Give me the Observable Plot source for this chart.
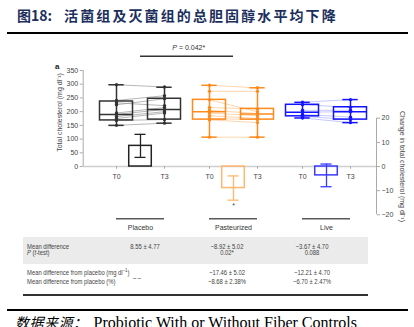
<!DOCTYPE html>
<html><head><meta charset="utf-8">
<script src="https://cdn.jsdelivr.net/npm/d3@7"></script>
<script src="https://cdn.jsdelivr.net/npm/@observablehq/plot@0.6"></script>
<style>
html,body{margin:0;padding:0;background:#fff;}
#wrap{position:relative;width:414px;height:327px;overflow:hidden;font-family:"Liberation Sans Narrow","Liberation Sans",Arial,sans-serif;}
#title{position:absolute;left:17px;top:8px;font-weight:bold;font-size:14px;font-family:"Noto Sans CJK SC",sans-serif;color:#1c2f5c;white-space:nowrap;line-height:1;}
#title .zh{letter-spacing:2.1px;margin-left:12px;}
.hr{position:absolute;background:#000;}
#chart{position:absolute;left:0;top:35px;}
.band{position:absolute;left:23px;top:237px;width:345px;height:27px;background:#ebebeb;}
.t{position:absolute;font-size:7px;color:#444;white-space:nowrap;line-height:1;}
.c{transform:translate(-50%,-50%) scaleX(0.84);}
.l{transform:translate(0,-50%) scaleX(0.84);transform-origin:0 50%;}
#foot{position:absolute;left:15px;top:314.5px;line-height:1;white-space:nowrap;color:#000;}
#foot .zh{font-family:"Noto Sans CJK SC",sans-serif;font-style:italic;font-size:14px;letter-spacing:0.5px;}
#foot .en{font-family:"Liberation Serif",serif;font-size:16px;margin-left:6px;}
</style></head><body>
<div id="wrap">
  <div id="title">图18:<span class="zh">活菌组及灭菌组的总胆固醇水平均下降</span></div>
  <div class="hr" style="left:7px;top:32px;width:401px;height:2px;"></div>
  <div id="chart"></div>
  <div class="band"></div>
  <div id="table"></div>
  <div class="hr" style="left:23px;top:294px;width:345px;height:1.5px;background:#333;"></div>
  <div class="hr" style="left:7px;top:309px;width:401px;height:2px;"></div>
  <div id="foot"><span class="zh">数据来源：</span><span class="en">Probiotic With or Without Fiber Controls</span></div>
</div>
<script>
// ---------- data ----------
const groups = ["Placebo", "Pasteurized", "Live"];
const times = ["T0", "T3"];
// box statistics (total cholesterol, mg/dl) per group
const minT0 = [150, 107, 177];
const q1T0  = [168, 171, 183];
const medT0 = [190, 200, 198];
const q3T0  = [237, 243, 225];
const maxT0 = [298, 296, 234];
const minT3 = [158, 107, 160];
const q1T3  = [171, 171, 171];
const medT3 = [208, 191, 200];
const q3T3  = [247, 210, 216];
const maxT3 = [289, 287, 244];
// individual subjects (paired T0 -> T3)
const placeboT0     = [298, 241, 232, 225, 195, 190, 182, 175, 168, 150];
const placeboT3     = [290, 258, 222, 247, 215, 208, 200, 195, 171, 158];
const pasteurizedT0 = [296, 274, 243, 215, 205, 195, 185, 175, 170, 107];
const pasteurizedT3 = [287, 274, 200, 210, 193, 185, 175, 171, 160, 107];
const liveT0        = [234, 225, 205, 198, 190, 183, 177];
const liveT3        = [244, 216, 205, 200, 180, 171, 160];
// change in total cholesterol (mean ± s.e.)
const meanDiff = [8.55, -8.92, -3.67];
const seDiff   = [4.77, 5.02, 4.70];
// axis ticks
const leftTicks  = [0, 50, 100, 150, 200, 250, 300, 350];
const rightTicks = [-20, -10, 0, 10, 20];
// table
const rowLabels = ["Mean difference", "<i>P</i> (<i>t</i>-test)", "Mean difference from placebo (mg dl<sup style='font-size:5px'>−1</sup>)", "Mean difference from placebo (%)"];
const meanDiffText = ["8.55 ± 4.77", "−8.92 ± 5.02", "−3.67 ± 4.70"];
const pText = ["", "0.02*", "0.088"];
const diffMgText = ["– –", "−17.46 ± 5.02", "−12.21 ± 4.70"];
const diffPctText = ["", "−8.68 ± 2.38%", "−6.70 ± 2.47%"];

// ---------- layout / style ----------
const K = 8.8;             // change units -> cholesterol units
const G = 93 / 48;         // group spacing
const xpos = (g, t) => g * G + t;
const strokeC = ["#333333", "#ff8a1c", "#1414ff"];
const lineC   = ["#9a9a9a", "#ffc58e", "#aeb2ff"];
const barC    = ["#222222", "#ffb76e", "#3a3aff"];
const BW = 0.6875, CW = 0.32, BARW = 0.47, ECW = 0.23;
const FONT = '"Liberation Sans Narrow","Liberation Sans",Arial,sans-serif';

const boxes = [];
groups.forEach((g, i) => {
  boxes.push({g: i, x: xpos(i, 0), min: minT0[i], q1: q1T0[i], med: medT0[i], q3: q3T0[i], max: maxT0[i]});
  boxes.push({g: i, x: xpos(i, 1), min: minT3[i], q1: q1T3[i], med: medT3[i], q3: q3T3[i], max: maxT3[i]});
});
const subj = [[placeboT0, placeboT3], [pasteurizedT0, pasteurizedT3], [liveT0, liveT3]];
const pairs = [], pts = [];
subj.forEach(([a, b], i) => a.forEach((v, j) => {
  pairs.push({g: i, x1: xpos(i, 0), x2: xpos(i, 1), y1: v, y2: b[j]});
  pts.push({g: i, x: xpos(i, 0), y: v});
  pts.push({g: i, x: xpos(i, 1), y: b[j]});
}));
const bars = groups.map((name, i) => ({g: i, name, x: xpos(i, 0.5), m: meanDiff[i] * K, lo: (meanDiff[i] - seDiff[i]) * K, hi: (meanDiff[i] + seDiff[i]) * K}));
const tpos = [];
groups.forEach((g, i) => times.forEach((t, j) => tpos.push({x: xpos(i, j), t})));

const xmin = (82.7 - 116) / 48, xmax = (376 - 116) / 48;
const col = d => strokeC[d.g];

const plot = Plot.plot({
  width: 414, height: 200,
  marginLeft: 82.7, marginRight: 38, marginTop: 35, marginBottom: 20.7,
  x: {domain: [xmin, xmax], axis: null},
  y: {domain: [-20 * K, 350], axis: null},
  style: {fontFamily: FONT, background: "transparent", overflow: "visible"},
  marks: [
    // axes
    Plot.ruleY([0], {x1: xmin, x2: xmax, stroke: "#cfcfcf", strokeWidth: 1.5}),
    Plot.ruleX([xmin], {y1: 0, y2: 350, stroke: "#aaa"}),
    Plot.ruleX([xmax], {y1: -20 * K, y2: 20 * K, stroke: "#aaa"}),
    Plot.axisY(leftTicks, {anchor: "left", tickSize: 3, tickPadding: 2, fontSize: 7, stroke: "#aaa", fill: "#444", label: null}),
    Plot.axisY(rightTicks.map(v => v * K), {anchor: "right", tickSize: 3, tickPadding: 2, fontSize: 7, stroke: "#aaa", fill: "#444", label: null,
      tickFormat: d => { const v = Math.round(d / K); return v < 0 ? "−" + Math.abs(v) : String(v); }}),
    Plot.text(["Total cholesterol (mg dl⁻¹)"], {x: xmin, y: 197, dx: -23, rotate: -90, fontSize: 7, fill: "#444"}),
    Plot.text(["Change in total cholesterol (mg dl⁻¹)"], {x: xmax, y: 0, dx: 26, rotate: 90, fontSize: 7, fill: "#444"}),
    Plot.text(["a"], {x: -1.235, y: 366, fontSize: 8, fontWeight: "bold", fill: "#222"}),
    // T ticks
    Plot.ruleX(tpos, {x: "x", y1: 0, y2: -10, stroke: "#aaa"}),
    Plot.text(tpos, {x: "x", y: 0, dy: 10, text: "t", fontSize: 7, fill: "#444"}),
    // subject lines
    Plot.link(pairs, {x1: "x1", y1: "y1", x2: "x2", y2: "y2", stroke: d => lineC[d.g], strokeWidth: 0.8, strokeOpacity: 0.9}),
    // whiskers
    Plot.ruleX(boxes, {x: "x", y1: "min", y2: "max", stroke: col, strokeWidth: 1.5}),
    Plot.ruleY(boxes, {y: "min", x1: d => d.x - CW / 2, x2: d => d.x + CW / 2, stroke: col, strokeWidth: 1.5}),
    Plot.ruleY(boxes, {y: "max", x1: d => d.x - CW / 2, x2: d => d.x + CW / 2, stroke: col, strokeWidth: 1.5}),
    // boxes
    Plot.rect(boxes, {x1: d => d.x - BW / 2, x2: d => d.x + BW / 2, y1: "q1", y2: "q3", fill: "none", stroke: col, strokeWidth: 1.5}),
    Plot.ruleY(boxes, {y: "med", x1: d => d.x - BW / 2, x2: d => d.x + BW / 2, stroke: col, strokeWidth: 1.5}),
    // points
    Plot.dot(pts, {x: "x", y: "y", r: 1.7, fill: col, stroke: "none"}),
    // change bars
    Plot.rect(bars, {x1: d => d.x - BARW / 2, x2: d => d.x + BARW / 2, y1: 0, y2: "m", fill: "none", stroke: d => barC[d.g], strokeWidth: 1.5}),
    Plot.ruleX(bars, {x: "x", y1: "lo", y2: "hi", stroke: d => barC[d.g], strokeWidth: 1.3}),
    Plot.ruleY(bars, {y: "lo", x1: d => d.x - ECW / 2, x2: d => d.x + ECW / 2, stroke: d => barC[d.g], strokeWidth: 1.3}),
    Plot.ruleY(bars, {y: "hi", x1: d => d.x - ECW / 2, x2: d => d.x + ECW / 2, stroke: d => barC[d.g], strokeWidth: 1.3}),
    Plot.text([bars[1]], {x: "x", y: "lo", dy: 6, text: () => "*", fontSize: 7, fill: "#444"}),
    // significance bracket
    Plot.ruleY([402], {x1: bars[0].x, x2: bars[1].x, stroke: "#333", strokeWidth: 1.5}),
    Plot.text(["P"], {x: (bars[0].x + bars[1].x) / 2, y: 434, dx: -10, textAnchor: "end", fontStyle: "italic", fontSize: 7, fill: "#333"}),
    Plot.text([" = 0.042*"], {x: (bars[0].x + bars[1].x) / 2, y: 434, dx: -10, textAnchor: "start", fontSize: 7, fill: "#333"}),
    // group labels
    Plot.ruleY(groups.map((n, i) => i), {y: -190, x1: i => xpos(i, 0), x2: i => xpos(i, 1), stroke: "#5a5a5a", strokeWidth: 1.5}),
    Plot.text(bars, {x: "x", y: -222, text: "name", fontSize: 7, fill: "#333"})
  ]
});
document.getElementById("chart").appendChild(plot);

// ---------- table ----------
const tbl = document.getElementById("table");
function put(html, x, y, cls) {
  const d = document.createElement("div");
  d.className = "t " + cls;
  d.style.left = x + "px"; d.style.top = y + "px";
  d.innerHTML = html; tbl.appendChild(d);
}
const rowY = [245.7, 252.3, 271.7, 280.7];
const colX = [145, 226.7, 311.7];
rowLabels.forEach((s, i) => put(s, 27, rowY[i], "l"));
meanDiffText.forEach((s, i) => put(s, colX[i], rowY[0], "c"));
pText.forEach((s, i) => s && put(s, colX[i], rowY[1], "c"));
diffMgText.forEach((s, i) => i && put(s, colX[i], rowY[2], "c"));
put(diffMgText[0], 136.7, 276.7, "c");
diffPctText.forEach((s, i) => s && put(s, colX[i], rowY[3], "c"));
</script>
</body></html>
